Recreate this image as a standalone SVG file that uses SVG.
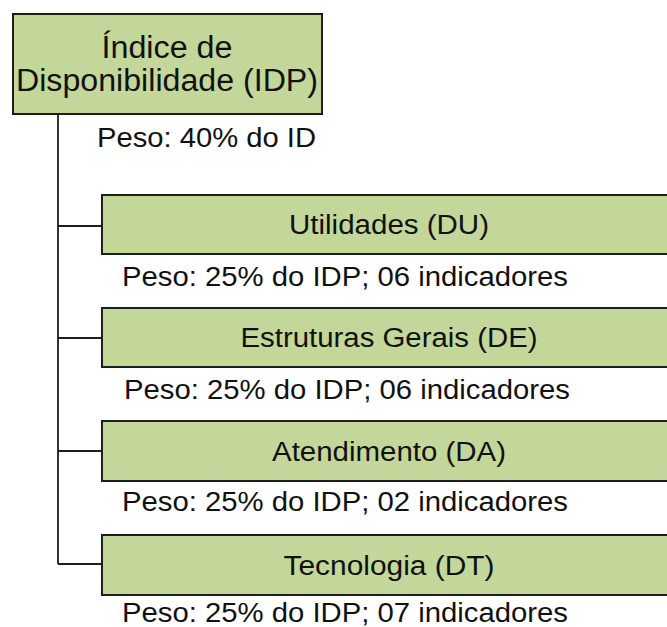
<svg xmlns="http://www.w3.org/2000/svg" width="667" height="627" viewBox="0 0 667 627">
  <style>
    .box { fill: #c4d79b; stroke: #1e1e1e; stroke-width: 2; }
    .conn { fill: none; stroke: #1e1e1e; stroke-width: 1.8; }
    text { font-family: "Liberation Sans", Arial, sans-serif; fill: #111111; }
    .title { font-size: 31px; text-anchor: middle; }
    .lbl { font-size: 27px; text-anchor: middle; }
    .peso { font-size: 27px; }
  </style>
  <rect x="0" y="0" width="667" height="627" fill="#ffffff"/>
  <g id="connectors">
    <path class="conn" d="M58 114 V564"/>
    <path class="conn" d="M58 226 H102"/>
    <path class="conn" d="M58 338 H102"/>
    <path class="conn" d="M58 451 H102"/>
    <path class="conn" d="M58 564 H102"/>
  </g>
  <g id="idp">
    <rect class="box" x="13" y="14" width="309" height="100"/>
    <text class="title" x="167" y="58" textLength="131" lengthAdjust="spacingAndGlyphs">Índice de</text>
    <text class="title" x="167" y="91" textLength="302" lengthAdjust="spacingAndGlyphs">Disponibilidade (IDP)</text>
    <text class="peso" x="97" y="147" textLength="219" lengthAdjust="spacingAndGlyphs">Peso: 40% do ID</text>
  </g>
  <g id="du">
    <rect class="box" x="102" y="195" width="580" height="59"/>
    <text class="lbl" x="389" y="234" textLength="200" lengthAdjust="spacingAndGlyphs">Utilidades (DU)</text>
    <text class="peso" x="122" y="286" textLength="446" lengthAdjust="spacingAndGlyphs">Peso: 25% do IDP; 06 indicadores</text>
  </g>
  <g id="de">
    <rect class="box" x="102" y="308" width="580" height="59"/>
    <text class="lbl" x="389" y="347" textLength="297" lengthAdjust="spacingAndGlyphs">Estruturas Gerais (DE)</text>
    <text class="peso" x="124" y="399" textLength="446" lengthAdjust="spacingAndGlyphs">Peso: 25% do IDP; 06 indicadores</text>
  </g>
  <g id="da">
    <rect class="box" x="102" y="421" width="580" height="60"/>
    <text class="lbl" x="389" y="461" textLength="234" lengthAdjust="spacingAndGlyphs">Atendimento (DA)</text>
    <text class="peso" x="122" y="511" textLength="446" lengthAdjust="spacingAndGlyphs">Peso: 25% do IDP; 02 indicadores</text>
  </g>
  <g id="dt">
    <rect class="box" x="102" y="535" width="580" height="60"/>
    <text class="lbl" x="389" y="575" textLength="211" lengthAdjust="spacingAndGlyphs">Tecnologia (DT)</text>
    <text class="peso" x="122" y="622" textLength="446" lengthAdjust="spacingAndGlyphs">Peso: 25% do IDP; 07 indicadores</text>
  </g>
</svg>
